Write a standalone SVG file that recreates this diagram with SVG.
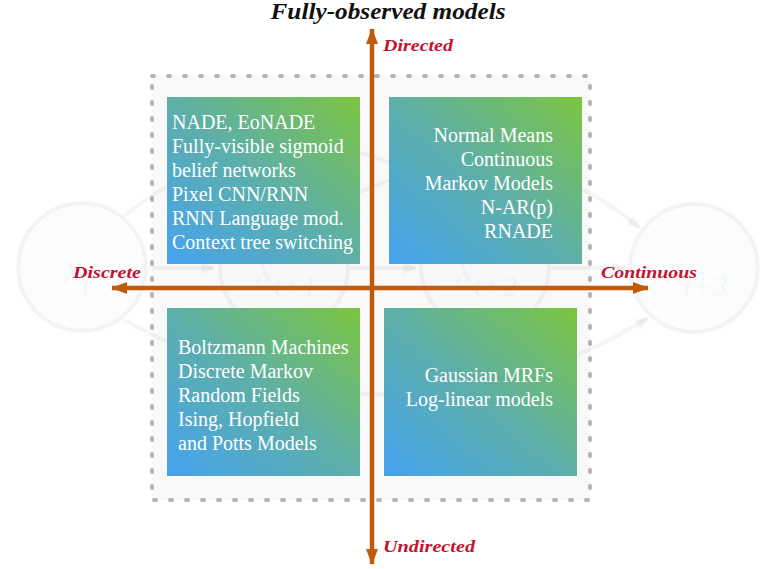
<svg xmlns="http://www.w3.org/2000/svg" width="776" height="569" viewBox="0 0 776 569">
<defs>
<linearGradient id="g" x1="0" y1="1" x2="1" y2="0">
<stop offset="0" stop-color="#45a3f0"/>
<stop offset="0.5" stop-color="#5dafa8"/>
<stop offset="1" stop-color="#7cc540"/>
</linearGradient>
<marker id="ah" viewBox="0 0 16 12" refX="15" refY="6" markerWidth="16" markerHeight="12" markerUnits="userSpaceOnUse" orient="auto">
<path d="M0,0 L16,6 L0,12 z" fill="#c25a0c"/>
</marker>
<marker id="gh" viewBox="0 0 14 12" refX="13" refY="6" markerWidth="14" markerHeight="12" markerUnits="userSpaceOnUse" orient="auto">
<path d="M0,0 L14,6 L0,12 z" fill="#000" fill-opacity="0.04"/>
</marker>
<style>
.box{fill:url(#g);}
.t{font-family:"Liberation Serif","Times New Roman",serif;font-size:20px;fill:#ffffff;}
.r{text-anchor:end;}
.ax{font-family:"Liberation Serif","Times New Roman",serif;font-size:17px;font-weight:bold;font-style:italic;fill:#c4122f;}
.axis{stroke:#c25a0c;stroke-width:4.5;fill:none;}
.ghost{fill:#eef5fb;fill-opacity:0.3;stroke:#000;stroke-opacity:0.04;stroke-width:4;}
.gl{fill:none;stroke:#000;stroke-opacity:0.04;stroke-width:4;}
.gt{font-family:"Liberation Serif","Times New Roman",serif;font-style:italic;fill:#000;fill-opacity:0.045;}
</style>
</defs>
<rect width="776" height="569" fill="#ffffff"/>
<rect id="frame" x="152" y="76" width="438" height="424" fill="#f9f9f9" stroke="#b4b4b4" stroke-width="4" stroke-dasharray="2 14" stroke-linecap="round"/>
<g id="ghost-graph">
<path class="gl" d="M148,268 L214,268" marker-end="url(#gh)"/>
<path class="gl" d="M350,268 L416,268" marker-end="url(#gh)"/>
<path class="gl" d="M551,268 L625,268" marker-end="url(#gh)"/>
<path class="gl" d="M124,216 Q300,80 460,205" marker-end="url(#gh)"/>
<path class="gl" d="M320,212 Q500,110 640,228" marker-end="url(#gh)"/>
<path class="gl" d="M124,320 Q400,470 648,318" marker-end="url(#gh)"/>
<circle class="ghost" cx="82" cy="267" r="64"/>
<circle class="ghost" cx="284" cy="267" r="64"/>
<circle class="ghost" cx="485" cy="267" r="64"/>
<circle class="ghost" cx="694" cy="268" r="64"/>
<text class="gt" x="64" y="282" font-size="40">x<tspan font-size="30" dy="14">t</tspan></text>
<text class="gt" x="256" y="282" font-size="40">x<tspan font-size="30" dy="14">t+1</tspan></text>
<text class="gt" x="456" y="282" font-size="40">x<tspan font-size="30" dy="14">t+2</tspan></text>
<text class="gt" x="666" y="282" font-size="40">x<tspan font-size="30" dy="14">t+3</tspan></text>
</g>
<g id="node-tl">
<rect class="box" x="167" y="97" width="193" height="167"/>
<text class="t" x="172" y="129">NADE, EoNADE</text>
<text class="t" x="172" y="153">Fully-visible sigmoid</text>
<text class="t" x="172" y="177">belief networks</text>
<text class="t" x="172" y="201">Pixel CNN/RNN</text>
<text class="t" x="172" y="225">RNN Language mod.</text>
<text class="t" x="172" y="249">Context tree switching</text>
</g>
<g id="node-tr">
<rect class="box" x="389" y="97" width="193" height="167"/>
<text class="t r" x="553" y="142">Normal Means</text>
<text class="t r" x="553" y="166">Continuous</text>
<text class="t r" x="553" y="190">Markov Models</text>
<text class="t r" x="553" y="214">N-AR(p)</text>
<text class="t r" x="553" y="238">RNADE</text>
</g>
<g id="node-bl">
<rect class="box" x="167" y="308" width="193" height="168"/>
<text class="t" x="178" y="354">Boltzmann Machines</text>
<text class="t" x="178" y="378">Discrete Markov</text>
<text class="t" x="178" y="402">Random Fields</text>
<text class="t" x="178" y="426">Ising, Hopfield</text>
<text class="t" x="178" y="450">and Potts Models</text>
</g>
<g id="node-br">
<rect class="box" x="384" y="308" width="193" height="168"/>
<text class="t r" x="553" y="382">Gaussian MRFs</text>
<text class="t r" x="553" y="406">Log-linear models</text>
</g>
<g id="connectors">
<line class="axis" x1="372" y1="288" x2="372" y2="29" marker-end="url(#ah)"/>
<line class="axis" x1="372" y1="288" x2="372" y2="564" marker-end="url(#ah)"/>
<line class="axis" x1="372" y1="288" x2="112" y2="288" marker-end="url(#ah)"/>
<line class="axis" x1="372" y1="288" x2="648" y2="288" marker-end="url(#ah)"/>
</g>
<g id="labels">
<text x="388" y="19" text-anchor="middle" font-family="'Liberation Serif','Times New Roman',serif" font-size="23" font-weight="bold" font-style="italic" fill="#111" textLength="235" lengthAdjust="spacingAndGlyphs">Fully-observed models</text>
<text class="ax" x="383" y="51" textLength="70" lengthAdjust="spacingAndGlyphs">Directed</text>
<text class="ax" x="383" y="552" textLength="92" lengthAdjust="spacingAndGlyphs">Undirected</text>
<text class="ax" x="73" y="278" textLength="68" lengthAdjust="spacingAndGlyphs">Discrete</text>
<text class="ax" x="601" y="278" textLength="96" lengthAdjust="spacingAndGlyphs">Continuous</text>
</g>
</svg>
